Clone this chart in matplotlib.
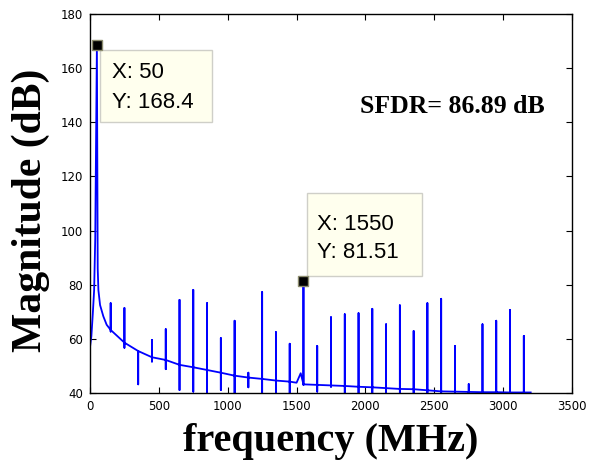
import matplotlib
matplotlib.use("Agg")
import matplotlib.pyplot as plt
import matplotlib.transforms as mtransforms
from matplotlib.patches import Rectangle

# low-frequency skirt around the fundamental (MHz, dB)
skirt_f = [0, 0, 10, 20, 30, 38, 50, 56, 61, 73, 97, 121]
skirt_db = [40, 57, 61, 69, 78, 97, 168.4, 86, 78, 72.5, 68.3, 65.2]

# spurs every 100 MHz: floor level, top and bottom of each spike
spur_f = [150, 250, 350, 450, 550, 650, 750, 850, 950, 1050, 1150, 1250,
          1350, 1450, 1550, 1650, 1750, 1850, 1950, 2050, 2150, 2250, 2350,
          2450, 2550, 2650, 2750, 2850, 2950, 3050, 3150]
spur_floor = [63.3, 58.6, 55.5, 53.2, 52.2, 50.4, 49.5, 48.5, 47.5, 46.4, 45.7,
              45.2, 44.6, 44.2, 43.2, 43.0, 42.8, 42.6, 42.3, 42.1, 41.8, 41.5,
              41.4, 41.0, 40.6, 40.5, 40.4, 40.3, 40.3, 40.2, 40.2]
spur_top = [73.2, 71.4, 55.5, 59.6, 63.6, 74.4, 78.1, 73.2, 60.3, 66.7, 47.5,
            77.3, 62.5, 58.2, 81.51, 57.4, 68.0, 69.1, 69.5, 71.1, 65.4, 72.4,
            62.9, 73.2, 74.8, 57.4, 43.3, 65.4, 66.7, 70.7, 61.1]
spur_bot = [62.7, 56.7, 43.2, 51.6, 48.8, 41.1, 40.5, 39.5, 41.1, 39.5, 42.1,
            39.5, 39.5, 39.5, 43.0, 40.5, 42.3, 39.5, 39.5, 39.5, 39.5, 39.5,
            39.5, 39.5, 39.5, 39.5, 39.5, 39.5, 39.5, 39.5, 39.5]

# extra floor points (small bump before the 1550 MHz spur, end of record)
extra_f = [1500, 1530, 3200]
extra_db = [43.8, 47.3, 40.2]

# data tips: point, box (dx, dy, w, h in pixels from the point), text offsets
tip_x = [50, 1550]
tip_y = [168.4, 81.51]
tip_box = [(3, -77, 112, 72), (4, 5, 115, 83)]
tip_txt = [(15, -33, -63), (14, 51, 23)]
sfdr = 86.89

# assemble the spectrum as one polyline
pts = []
for i, (f, v) in enumerate(zip(skirt_f, skirt_db)):
    pts.append((f, i, v))
for f, fl, t, b in zip(spur_f, spur_floor, spur_top, spur_bot):
    pts += [(f, 0, fl), (f, 1, t), (f, 2, b), (f, 3, fl)]
for f, v in zip(extra_f, extra_db):
    pts.append((f, 0, v))
pts.sort(key=lambda p: (p[0], p[1]))
freq = [p[0] for p in pts]
mag = [p[2] for p in pts]

fig = plt.figure(figsize=(6.05, 4.61), dpi=100)
ax = fig.add_axes([90 / 605, 68 / 461, 482 / 605, 379 / 461])

ax.plot(freq, mag, color="#0000ff", lw=1.3)
ax.set_xlim(0, 3500)
ax.set_ylim(40, 180)
ax.set_xticks(range(0, 3501, 500))
ax.set_yticks(range(40, 181, 20))
ax.tick_params(direction="in", top=True, right=True, length=4, width=0.8,
               labelsize=8.5, pad=5)
for s in ax.spines.values():
    s.set_linewidth(1.0)

ax.set_xlabel("frequency (MHz)", family="Liberation Serif", weight="bold",
              fontsize=29)
ax.set_ylabel("Magnitude (dB)", family="Liberation Serif", weight="bold",
              fontsize=30)
ax.xaxis.set_label_coords(0.5, -0.08)
ax.yaxis.set_label_coords(-0.083, 0.482)

ax.text(1962, 143.6, "SFDR= %.2f dB" % sfdr, family="Liberation Serif",
        weight="bold", fontsize=18.5, va="baseline")

# data tip markers + boxes
for f, v, (bx, by, bw, bh), (tx, ty1, ty2) in zip(tip_x, tip_y, tip_box, tip_txt):
    ax.plot(f, v, marker="s", ms=7.5, mfc="black", mec="#8c8c6e", mew=1,
            zorder=6, clip_on=False)
    off = mtransforms.ScaledTranslation(f, v, ax.transData)
    ax.add_patch(Rectangle((bx, by), bw, bh, transform=off, fc="#ffffee",
                           ec="#cfcfc8", lw=1.0, zorder=5, clip_on=False))
    for dy, s in ((ty1, "X: %g" % f), (ty2, "Y: %g" % v)):
        ax.annotate(s, xy=(f, v), xytext=(tx, dy), textcoords="offset pixels",
                    family="Liberation Sans", fontsize=16, va="baseline",
                    ha="left", zorder=7)

fig.savefig("out.png", dpi=100)
